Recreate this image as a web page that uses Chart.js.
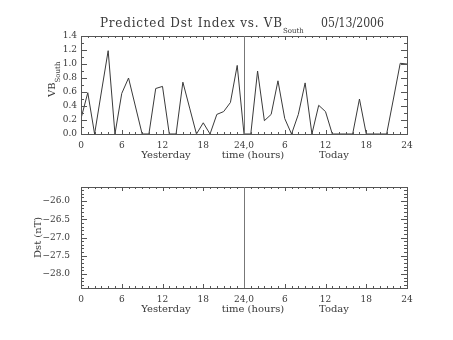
<!DOCTYPE html>
<html>
<head>
<meta charset="utf-8">
<script src="https://cdn.jsdelivr.net/npm/chart.js@4.4.0/dist/chart.umd.min.js"></script>
<style>
body { margin: 0; background: #fff; }
canvas { display: block; }
</style>
</head>
<body>
<canvas id="vbChart" width="453" height="170"></canvas>
<canvas id="dstChart" width="453" height="170"></canvas>
<script>
// hours counted from start of yesterday (0-24 yesterday, 24-48 today)
const hours = [0,1,2,3,4,5,6,7,8,9,10,11,12,13,14,15,16,17,18,19,20,21,22,23,24,
               25,26,27,28,29,30,31,32,33,34,35,36,37,38,39,40,41,42,43,44,45,46,47,48];
const vbSouth = [0.22,0.59,0,0.6,1.19,0,0.58,0.8,0.4,0,0,0.65,0.68,0,0,0.74,0.37,0,0.16,0,0.28,0.32,0.45,0.98,0,
                 0,0.9,0.19,0.28,0.76,0.22,0,0.28,0.73,0,0.41,0.32,0,0,0,0,0.5,0,0,0,0,0.5,1.01,1.0];

// no Dst prediction available for this date
const dstHours = [];
const dstValues = [];

const xTicks = [0,6,12,18,24,30,36,42,48];
const xTickLabels = ['0','6','12','18','24,0','6','12','18','24'];
const vbTicks = [0,0.2,0.4,0.6,0.8,1.0,1.2,1.4];
const dstTicks = [-28,-27.5,-27,-26.5,-26];

const serif = 'DejaVu Serif';
const ink = '#3a3a3a';

function fmt(v) {
    const s = Math.abs(v).toFixed(1);
    return v < 0 ? '\u2212' + s : s;
}

// IDL-ish frame: box, inward ticks, day divider, titles
function makeFrame(o) {
    return {
        id: 'idlFrame',
        afterDraw(chart) {
            const ctx = chart.ctx;
            const a = chart.chartArea;
            const x = chart.scales.x, y = chart.scales.y;
            ctx.save();
            ctx.strokeStyle = '#555';
            ctx.lineWidth = 1;
            ctx.strokeRect(Math.round(a.left) + 0.5, Math.round(a.top) + 0.5,
                           Math.round(a.right - a.left), Math.round(a.bottom - a.top));

            ctx.beginPath();
            for (let h = x.min; h <= x.max; h++) {
                const px = Math.round(x.getPixelForValue(h)) + 0.5;
                const len = h % 6 === 0 ? 4 : 2;
                ctx.moveTo(px, a.bottom); ctx.lineTo(px, a.bottom - len);
                ctx.moveTo(px, a.top); ctx.lineTo(px, a.top + len);
            }
            const k0 = Math.ceil(y.min / o.yMinor - 1e-6), k1 = Math.floor(y.max / o.yMinor + 1e-6);
            for (let k = k0; k <= k1; k++) {
                const v = k * o.yMinor;
                const r = v / o.yMajor;
                const len = Math.abs(r - Math.round(r)) < 1e-6 ? 6 : 3;
                const py = Math.round(y.getPixelForValue(v)) + 0.5;
                ctx.moveTo(a.left, py); ctx.lineTo(a.left + len, py);
                ctx.moveTo(a.right, py); ctx.lineTo(a.right - len, py);
            }
            ctx.stroke();

            // divider between yesterday and today
            const mid = Math.round(x.getPixelForValue(24)) + 0.5;
            ctx.strokeStyle = '#777';
            ctx.beginPath();
            ctx.moveTo(mid, a.top); ctx.lineTo(mid, a.bottom);
            ctx.stroke();

            ctx.fillStyle = ink;
            ctx.textBaseline = 'middle';
            ctx.textAlign = 'center';
            ctx.font = '10px "' + serif + '"';
            const ty = a.bottom + 21;
            ctx.fillText('Yesterday', a.left + 85, ty);
            ctx.fillText('time (hours)', a.left + 172, ty);
            ctx.fillText('Today', a.left + 253, ty);

            // rotated y title
            ctx.save();
            ctx.translate(o.yTitleX, o.yTitleY);
            ctx.rotate(-Math.PI / 2);
            ctx.textAlign = 'left';
            ctx.textBaseline = 'alphabetic';
            ctx.font = '10px "' + serif + '"';
            ctx.fillText(o.yTitle, 0, 0);
            if (o.ySub) {
                const w = ctx.measureText(o.yTitle).width;
                ctx.font = '7px "' + serif + '"';
                ctx.fillText(o.ySub, w, 5);
            }
            ctx.restore();

            if (o.title) {
                ctx.textAlign = 'left';
                ctx.textBaseline = 'alphabetic';
                ctx.font = '12px "' + serif + '"';
                const main = 'Predicted Dst Index vs. VB';
                const w0 = ctx.measureText(main).width;
                ctx.letterSpacing = ((183 - w0) / main.length).toFixed(2) + 'px';
                ctx.fillText(main, 100, 27);
                const w = ctx.measureText(main).width;
                ctx.letterSpacing = '0px';
                ctx.font = '7px "' + serif + '"';
                ctx.fillText('South', 100 + w, 33);
                ctx.font = '12px "' + serif + '"';
                ctx.fillText('05/13/2006', 321, 27, 63);
            }
            ctx.restore();
        }
    };
}

function buildChart(id, points, yMin, yMax, yTicks, frame, yPad, top, xAxisH) {
    return new Chart(document.getElementById(id), {
        type: 'line',
        data: {
            datasets: [{
                data: points,
                borderColor: ink,
                borderWidth: 1,
                pointRadius: 0,
                tension: 0,
                fill: false
            }]
        },
        options: {
            responsive: false,
            animation: false,
            devicePixelRatio: 1,
            layout: { padding: { top: top, right: 46, left: 0, bottom: 0 } },
            plugins: { legend: { display: false }, tooltip: { enabled: false } },
            scales: {
                x: {
                    type: 'linear', min: 0, max: 48,
                    afterBuildTicks: s => { s.ticks = xTicks.map(v => ({ value: v })); },
                    afterFit: s => { s.height = xAxisH; },
                    grid: { display: false, drawTicks: false },
                    border: { display: false },
                    ticks: {
                        autoSkip: false, maxRotation: 0, padding: 6, color: ink,
                        font: { family: serif, size: 9 },
                        callback: v => xTickLabels[xTicks.indexOf(v)]
                    }
                },
                y: {
                    min: yMin, max: yMax,
                    afterBuildTicks: s => { s.ticks = yTicks.map(v => ({ value: v })); },
                    afterFit: s => { s.width = 81; },
                    grid: { display: false, drawTicks: false },
                    border: { display: false },
                    ticks: {
                        padding: yPad, color: ink,
                        font: { family: serif, size: 9 },
                        callback: v => fmt(v)
                    }
                }
            }
        },
        plugins: [makeFrame(frame)]
    });
}

buildChart('vbChart', hours.map((h, i) => ({ x: h, y: vbSouth[i] })), 0, 1.4, vbTicks,
    { yMinor: 0.1, yMajor: 0.2, yTitle: 'VB', ySub: 'South', yTitleX: 55, yTitleY: 97, title: true },
    4, 36, 36);

buildChart('dstChart', dstHours.map((h, i) => ({ x: h, y: dstValues[i] })), -28.38, -25.62, dstTicks,
    { yMinor: 0.1, yMajor: 0.5, yTitle: 'Dst (nT)', yTitleX: 41, yTitleY: 88, title: false },
    11, 17, 52);
</script>
</body>
</html>
